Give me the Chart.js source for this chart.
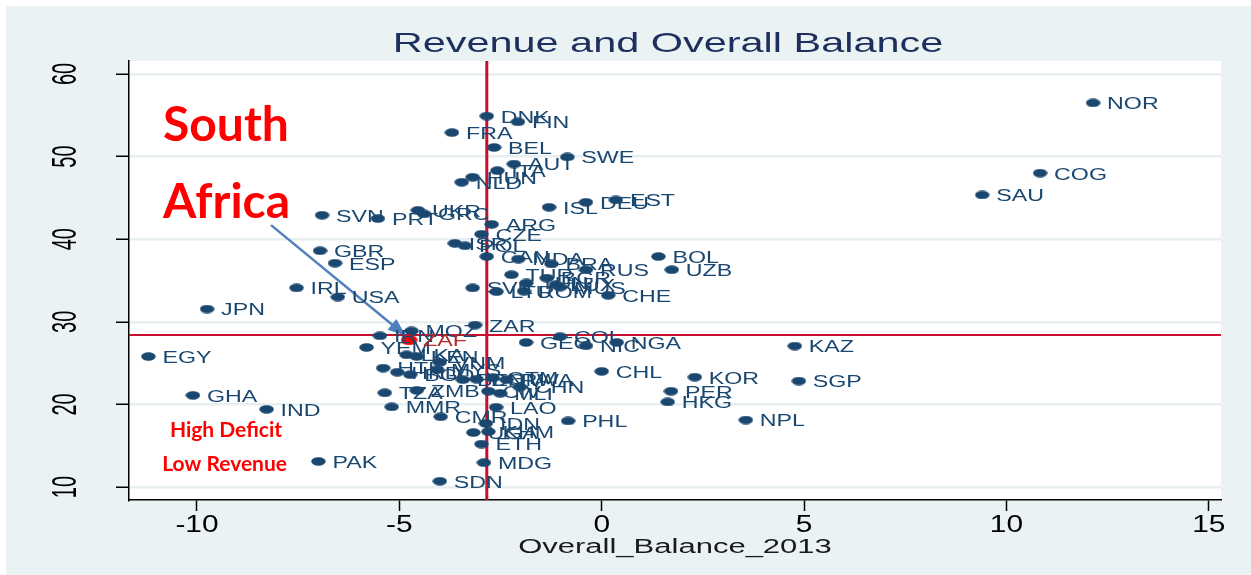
<!DOCTYPE html>
<html lang="en">
<head>
  <meta charset="UTF-8">
  <title>Revenue and Overall Balance</title>
  <script src="https://cdn.jsdelivr.net/npm/chart.js"></script>
  <style>
    body { margin: 0; background: #ffffff; }
    canvas { display: block; }
  </style>
</head>
<body>

  <canvas id="balanceChart" width="1251" height="575"></canvas>

  <script>
    const countries = [
      "NOR", "COG", "SAU", "KAZ", "SGP", "NPL", "KOR", "PER", "HKG", "CHL",
      "PHL", "NGA", "NIC", "COL", "GEO", "ZAR", "CHE", "BOL", "UZB", "RUS",
      "BRA", "MDA", "CAN", "TUR", "BGR", "TUN", "LUX", "MUS", "SVK", "LTU",
      "ROM", "IRL", "USA", "JPN", "GBR", "ESP", "SVN", "PRT", "UKR", "GRC",
      "ARG", "CZE", "ISR", "POL", "ISL", "DEU", "EST", "DNK", "FIN", "FRA",
      "BEL", "SWE", "AUT", "ITA", "HUN", "NLD", "EGY", "GHA", "IND", "PAK",
      "IRN", "MOZ", "ZAF", "YEM", "LKA", "KEN", "VNM", "HTI", "HND", "BGD",
      "MYS", "BEN", "DOM", "GTM", "RWA", "CHN", "CIV", "MLI", "TZA", "ZMB",
      "MMR", "LAO", "CMR", "IDN", "UGA", "KHM", "ETH", "MDG", "SDN"
    ];
    const balance2013 = [
      12.14, 10.83, 9.40, 4.77, 4.87, 3.56, 2.30, 1.71, 1.63, 0.00,
      -0.83, 0.37, -0.39, -1.03, -1.87, -3.13, 0.16, 1.40, 1.73, -0.39,
      -1.24, -2.06, -2.84, -2.23, -1.36, -1.86, -1.13, -1.03, -3.19, -2.60,
      -1.92, -7.54, -6.52, -9.75, -6.96, -6.59, -6.91, -5.53, -4.54, -4.39,
      -2.72, -2.97, -3.63, -3.38, -1.30, -0.39, 0.35, -2.84, -2.07, -3.70,
      -2.66, -0.85, -2.17, -2.58, -3.19, -3.46, -11.20, -10.10, -8.28, -7.00,
      -5.48, -4.70, -4.76, -5.81, -4.82, -4.57, -4.00, -5.40, -5.05, -4.73,
      -4.07, -3.43, -3.09, -2.69, -2.35, -2.02, -2.80, -2.51, -5.36, -4.57,
      -5.19, -2.61, -3.98, -2.86, -3.17, -2.80, -2.97, -2.91, -4.00
    ];
    const revenue = [
      56.5, 48.0, 45.35, 27.07, 22.83, 18.11, 23.3, 21.6, 20.3, 24.0,
      18.0, 27.5, 27.1, 28.2, 27.5, 29.6, 33.2, 37.9, 36.3, 36.3,
      37.0, 37.6, 37.9, 35.7, 35.3, 34.7, 34.5, 34.2, 34.1, 33.65,
      33.7, 34.1, 33.0, 31.55, 38.6, 37.1, 42.9, 42.5, 43.5, 43.05,
      41.8, 40.6, 39.5, 39.2, 43.86, 44.47, 44.75, 54.9, 54.2, 52.9,
      51.1, 49.95, 49.1, 48.3, 47.5, 46.9, 25.8, 21.1, 19.4, 13.1,
      28.3, 28.9, 27.8, 26.9, 26.0, 25.8, 25.1, 24.4, 23.9, 23.6,
      24.2, 23.0, 23.05, 23.2, 23.0, 22.1, 21.6, 21.35, 21.4, 21.7,
      19.7, 19.65, 18.5, 17.7, 16.6, 16.7, 15.2, 12.95, 10.7
    ];
    const xTicks = [-10, -5, 0, 5, 10, 15];
    const yTicks = [10, 20, 30, 40, 50, 60];
    const refBalance = -2.84;
    const refRevenue = 28.4;
    const highlight = "ZAF";

    const navy = '#1a476f';
    const lineRed = '#c8102e';

    function ellipseMarker(w, h, color) {
      const c = document.createElement('canvas');
      c.width = w; c.height = h;
      const g = c.getContext('2d');
      g.fillStyle = color;
      g.beginPath();
      g.ellipse(w / 2, h / 2, w / 2 - 0.3, h / 2 - 0.3, 0, 0, Math.PI * 2);
      g.fill();
      return c;
    }

    // text drawn wide, like the stretched Stata export
    function wideText(ctx, str, x, y, o) {
      ctx.save();
      ctx.translate(x, y);
      if (o.rot) ctx.rotate(o.rot);
      ctx.scale(o.sx || 1, o.sy || 1);
      ctx.font = o.font;
      ctx.fillStyle = o.color;
      ctx.textAlign = o.align || 'left';
      ctx.textBaseline = o.baseline || 'middle';
      ctx.fillText(str, 0, 0);
      ctx.restore();
    }

    const others = [], zaf = [], otherCodes = [], zafCodes = [];
    countries.forEach((c, i) => {
      const p = { x: balance2013[i], y: revenue[i] };
      if (c === highlight) { zaf.push(p); zafCodes.push(c); }
      else { others.push(p); otherCodes.push(c); }
    });

    const backdrop = {
      id: 'backdrop',
      beforeDraw(chart) {
        const { ctx, chartArea: a } = chart;
        ctx.save();
        ctx.fillStyle = '#ffffff';
        ctx.fillRect(0, 0, chart.width, chart.height);
        ctx.fillStyle = '#eaf2f3';
        ctx.fillRect(6, 6, chart.width - 6, chart.height - 6);
        ctx.fillStyle = '#ffffff';
        ctx.fillRect(a.left, a.top, a.right - a.left, a.bottom - a.top);
        ctx.restore();
      }
    };

    const refLines = {
      id: 'refLines',
      beforeDatasetsDraw(chart) {
        const { ctx, chartArea: a, scales: { x, y } } = chart;
        ctx.save();
        ctx.strokeStyle = lineRed;
        ctx.lineWidth = 2;
        ctx.beginPath();
        ctx.moveTo(a.left, y.getPixelForValue(refRevenue));
        ctx.lineTo(a.right, y.getPixelForValue(refRevenue));
        ctx.stroke();
        ctx.lineWidth = 3;
        ctx.beginPath();
        ctx.moveTo(x.getPixelForValue(refBalance), a.top);
        ctx.lineTo(x.getPixelForValue(refBalance), a.bottom);
        ctx.stroke();
        ctx.restore();
      }
    };

    const labelsAndNotes = {
      id: 'labelsAndNotes',
      afterDatasetsDraw(chart) {
        const { ctx, chartArea: a, scales: { x, y } } = chart;
        const codeSets = [otherCodes, zafCodes];
        const colors = [navy, '#b22a2a'];

        // arrow pointing to South Africa
        const x0 = x.getPixelForValue(-8.17), y0 = y.getPixelForValue(41.7);
        const x1 = x.getPixelForValue(-4.84), y1 = y.getPixelForValue(28.3);
        const ang = Math.atan2(y1 - y0, x1 - x0);
        ctx.save();
        ctx.strokeStyle = '#4f81bd';
        ctx.fillStyle = '#4f81bd';
        ctx.lineWidth = 2.5;
        ctx.beginPath();
        ctx.moveTo(x0, y0);
        ctx.lineTo(x1 - 14 * Math.cos(ang), y1 - 14 * Math.sin(ang));
        ctx.stroke();
        ctx.beginPath();
        ctx.moveTo(x1, y1);
        ctx.lineTo(x1 - 18 * Math.cos(ang) + 7 * Math.sin(ang), y1 - 18 * Math.sin(ang) - 7 * Math.cos(ang));
        ctx.lineTo(x1 - 18 * Math.cos(ang) - 7 * Math.sin(ang), y1 - 18 * Math.sin(ang) + 7 * Math.cos(ang));
        ctx.closePath();
        ctx.fill();
        ctx.restore();

        chart.data.datasets.forEach((ds, di) => {
          chart.getDatasetMeta(di).data.forEach((pt, i) => {
            wideText(ctx, codeSets[di][i], pt.x + 14, pt.y + 2, {
              font: '16px "Liberation Sans", Arial, sans-serif', color: colors[di], sx: 1.45
            });
          });
        });

        const big = 'bold 48px Lato, "Open Sans", sans-serif';
        const small = 'bold 21px Lato, "Open Sans", sans-serif';
        wideText(ctx, 'South', x.getPixelForValue(-10.84), y.getPixelForValue(53.8), { font: big, color: '#ff0000' });
        wideText(ctx, 'Africa', x.getPixelForValue(-10.84), y.getPixelForValue(44.5), { font: big, color: '#ff0000' });
        wideText(ctx, 'High Deficit', x.getPixelForValue(-10.67), y.getPixelForValue(16.9), { font: small, color: '#ff0000' });
        wideText(ctx, 'Low Revenue', x.getPixelForValue(-10.86), y.getPixelForValue(12.7), { font: small, color: '#ff0000' });
      },
      afterDraw(chart) {
        const { ctx, chartArea: a, scales: { x, y } } = chart;
        x.ticks.forEach(t => {
          wideText(ctx, String(t.value), x.getPixelForValue(t.value), 532, {
            font: '23px "Liberation Sans", Arial, sans-serif', color: '#000', sx: 1.3,
            align: 'center', baseline: 'alphabetic'
          });
        });
        y.ticks.forEach(t => {
          wideText(ctx, String(t.value), 66, y.getPixelForValue(t.value), {
            font: '20px "Liberation Sans", Arial, sans-serif', color: '#000', rot: -Math.PI / 2, sy: 1.75,
            align: 'center', baseline: 'middle'
          });
        });
        wideText(ctx, 'Revenue and Overall Balance', 668, 52, {
          font: '28px "Liberation Sans", Arial, sans-serif', color: '#1d2f5c', sx: 1.48,
          align: 'center', baseline: 'alphabetic'
        });
        wideText(ctx, 'Overall_Balance_2013', (a.left + a.right) / 2, 553, {
          font: '20px "Liberation Sans", Arial, sans-serif', color: '#1a1a1a', sx: 1.55,
          align: 'center', baseline: 'alphabetic'
        });
      }
    };

    new Chart(document.getElementById('balanceChart'), {
      type: 'scatter',
      data: {
        datasets: [{
          label: 'Revenue',
          data: others,
          pointStyle: ellipseMarker(15, 9, navy),
          pointRadius: 6
        }, {
          label: 'South Africa',
          data: zaf,
          pointStyle: ellipseMarker(17, 11, '#ff0000'),
          pointRadius: 7
        }]
      },
      options: {
        responsive: false,
        animation: false,
        layout: { padding: { top: 61, right: 30, left: 0, bottom: 0 } },
        plugins: {
          legend: { display: false },
          title: { display: false },
          tooltip: { enabled: false }
        },
        scales: {
          x: {
            type: 'linear',
            min: -11.68,
            max: 15.3,
            afterBuildTicks: s => { s.ticks = xTicks.map(v => ({ value: v })); },
            afterFit: s => { s.height = 75; },
            ticks: { display: false },
            grid: { drawOnChartArea: false, drawTicks: true, tickLength: 11, tickColor: '#000', tickWidth: 1.5 },
            border: { color: '#000', width: 1.5 }
          },
          y: {
            type: 'linear',
            min: 8.43,
            max: 61.57,
            afterBuildTicks: s => { s.ticks = yTicks.map(v => ({ value: v })); },
            afterFit: s => { s.width = 129; },
            ticks: { display: false },
            grid: { color: '#e8eff1', lineWidth: 2.5, drawTicks: true, tickLength: 13, tickColor: '#000', tickWidth: 1.5 },
            border: { color: '#000', width: 1.5 }
          }
        }
      },
      plugins: [backdrop, refLines, labelsAndNotes]
    });
  </script>

</body>
</html>
